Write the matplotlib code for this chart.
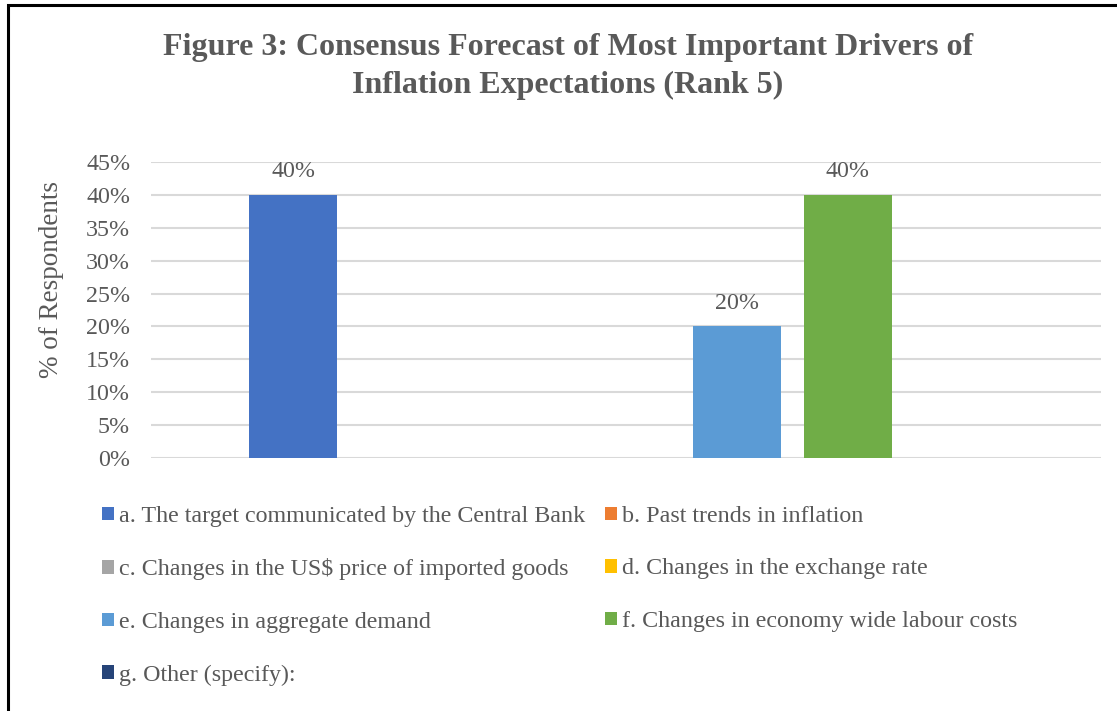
import matplotlib
matplotlib.use("Agg")
import matplotlib.pyplot as plt
import numpy as np
from matplotlib.patches import Rectangle

series = ["a. The target communicated by the Central Bank",
          "b. Past trends in inflation",
          "c. Changes in the US$ price of imported goods",
          "d. Changes in the exchange rate",
          "e. Changes in aggregate demand",
          "f. Changes in economy wide labour costs",
          "g. Other (specify):"]
values = [0.40, 0.0, 0.0, 0.0, 0.20, 0.40, 0.0]
colors = ["#4472C4", "#ED7D31", "#A5A5A5", "#FFC000", "#5B9BD5", "#70AD47", "#264478"]
yticks = [0, 0.05, 0.10, 0.15, 0.20, 0.25, 0.30, 0.35, 0.40, 0.45]
title = "Figure 3: Consensus Forecast of Most Important Drivers of\nInflation Expectations (Rank 5)"

plt.rcParams['font.family'] = ['Liberation Serif', 'DejaVu Serif']
TXT = "#595959"
FS = 17.3
W, H = 1117, 711
fig = plt.figure(figsize=(W/100, H/100), dpi=100)

# frame
fig.patches.append(Rectangle((8/W, -0.1), 1.2, 1 - 5/H + 0.1, transform=fig.transFigure,
                             fill=False, edgecolor="black", linewidth=2.2))

ax = fig.add_axes([151/W, 1 - 458/H, 950/W, (458-162)/H])
n = len(series)
slot = 0.1168
bw = 0.0926
bars = []
for i, (lab, v, c) in enumerate(zip(series, values, colors)):
    x = (i - (n-1)/2) * slot
    b = ax.bar(x, v, width=bw, color=c, label=lab, zorder=3)
    bars.append(b)
    if v > 0:
        ax.annotate(f"{v*100:.0f}%", (x, v), xytext=(0, 9), textcoords="offset points",
                    ha="center", va="bottom", fontsize=FS, color=TXT)
ax.set_xlim(-0.5, 0.5)
ax.set_ylim(0, 0.45)
ax.set_yticks(yticks)
ax.set_yticklabels([f"{t*100:.0f}%" for t in yticks], fontsize=FS, color=TXT)
ax.set_xticks([])
ax.tick_params(axis='y', length=0, pad=15)
ax.grid(axis='y', color="#D9D9D9", linewidth=1.5, zorder=0)
for s in ax.spines.values():
    s.set_visible(False)

fig.text(52/W, 1 - 279/H, "% of Respondents", rotation=90, ha="center", va="center",
         fontsize=19.5, color=TXT)
fig.text(568/W, 1 - 66.5/H, title, ha="center", va="center", fontsize=23,
         fontweight="bold", color=TXT, linespacing=1.37)

order = [0, 2, 4, 6, 1, 3, 5]
leg = fig.legend([bars[i] for i in order], [series[i] for i in order], ncol=2,
                 loc="upper left", bbox_to_anchor=(102/W, 1 - 506/H), frameon=False,
                 fontsize=FS, handlelength=0.5, handleheight=0.5, handletextpad=0.2,
                 labelspacing=1.31, columnspacing=0.82, borderpad=0, borderaxespad=0)
for t in leg.get_texts():
    t.set_color(TXT)

fig.savefig("out.png", dpi=100)
